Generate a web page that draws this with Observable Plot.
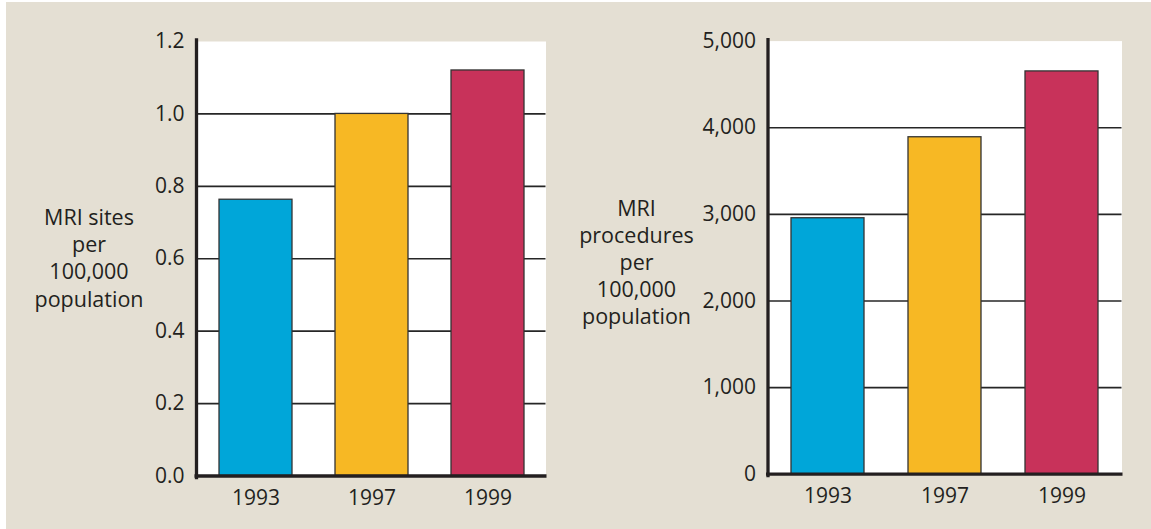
<!DOCTYPE html>
<html>
<head>
<meta charset="utf-8">
<script src="https://cdn.jsdelivr.net/npm/d3@7"></script>
<script src="https://cdn.jsdelivr.net/npm/@observablehq/plot@0.6"></script>
<style>
  html, body { margin: 0; padding: 0; background: #ffffff; }
  #wrap { position: relative; width: 1151px; height: 529px; overflow: hidden; background: #ffffff; }
  #bg { position: absolute; left: 6px; top: 2px; right: 0; bottom: 0; background: #e4dfd3; }
  .chart { position: absolute; top: 0; }
  #left { left: 0; }
  #right { left: 580px; }
</style>
</head>
<body>
<div id="wrap">
  <div id="bg"></div>
  <div id="left" class="chart"></div>
  <div id="right" class="chart"></div>
</div>
<script>
// ---- data ----
const years = ["1993", "1997", "1999"];
const barColors = ["#00a6d9", "#f7b824", "#c8325a"];
const sitesValues = [0.763, 1.0, 1.12];
const proceduresValues = [2955, 3890, 4650];
const sitesTicks = [0, 0.2, 0.4, 0.6, 0.8, 1.0, 1.2];
const proceduresTicks = [0, 1000, 2000, 3000, 4000, 5000];
const sitesLabel = "MRI sites\nper\n100,000\npopulation";
const proceduresLabel = "MRI\nprocedures\nper\n100,000\npopulation";

const ink = "#231f20";
const gridInk = "#262626";

function makeChart({values, ticks, format, label, width, height, margins, labelDx, labelDy}) {
  const data = years.map((y, i) => ({year: y, value: values[i]}));
  const gridTicks = ticks.slice(1, -1);
  return Plot.plot({
    width, height,
    marginLeft: margins[0], marginRight: margins[1], marginTop: margins[2], marginBottom: margins[3],
    style: {fontFamily: "'Open Sans', sans-serif", fontSize: "21px", color: ink, background: "transparent", overflow: "visible"},
    x: {domain: years, paddingInner: 0.375, paddingOuter: 0.19, align: 0.5},
    y: {domain: [ticks[0], ticks[ticks.length - 1]]},
    color: {domain: years, range: barColors},
    marks: [
      Plot.frame({fill: "white", stroke: "none"}),
      Plot.ruleY(gridTicks, {stroke: gridInk, strokeWidth: 1.6}),
      Plot.barY(data, {x: "year", y: "value", fill: "year", stroke: "#333", strokeWidth: 1.3}),
      Plot.ruleY([ticks[0]], {stroke: ink, strokeWidth: 3.3, insetLeft: -1.5, insetRight: -1}),
      Plot.frame({anchor: "left", stroke: ink, strokeWidth: 3.3, insetTop: -1.5, insetBottom: -1.5}),
      Plot.axisY({ticks, tickSize: 0, tickPadding: 12, tickFormat: format, label: null, fill: ink}),
      Plot.axisX({tickSize: 0, tickPadding: 14, label: null, fill: ink}),
      Plot.text([label], {text: d => d, frameAnchor: "left", textAnchor: "middle", lineAnchor: "middle",
        lineHeight: 1.26, dx: labelDx, dy: labelDy, fill: ink, fontSize: 21.5})
    ]
  });
}

document.getElementById("left").append(makeChart({
  values: sitesValues, ticks: sitesTicks, format: d3.format(".1f"), label: sitesLabel,
  width: 580, height: 529, margins: [196, 34.5, 41, 53.5], labelDx: -107.5, labelDy: -1.5
}));
document.getElementById("right").append(makeChart({
  values: proceduresValues, ticks: proceduresTicks, format: d3.format(","), label: proceduresLabel,
  width: 571, height: 529, margins: [187.5, 29.5, 40.6, 55.3], labelDx: -131.5, labelDy: 3.5
}));
</script>
</body>
</html>
